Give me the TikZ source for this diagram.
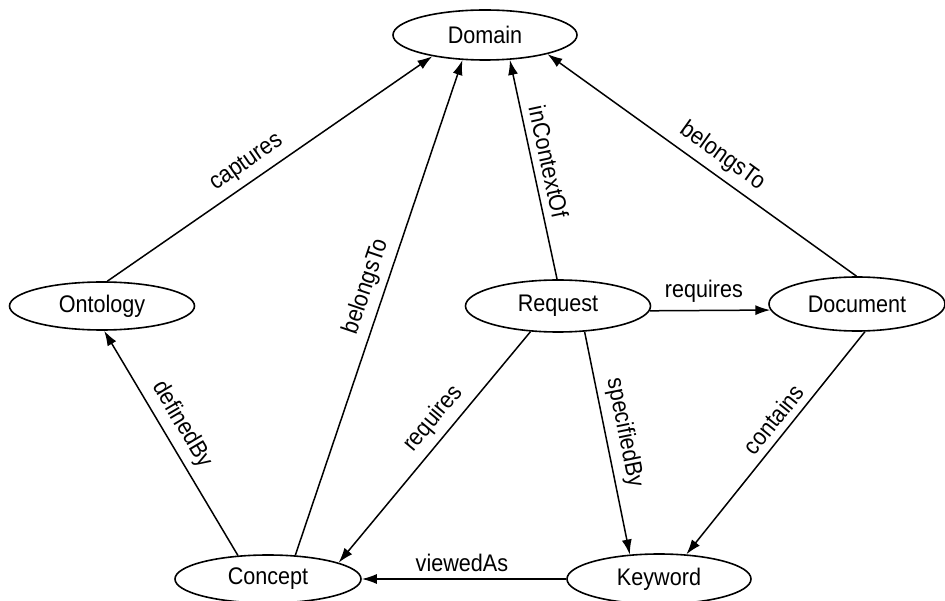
\documentclass[tikz,border=0pt]{standalone}
\usepackage{fontspec}
\setmainfont{Liberation Sans}[FakeStretch=0.9]
\usetikzlibrary{shapes.geometric,arrows.meta}

\begin{document}
\begin{tikzpicture}[x=1pt,y=-1pt,
  concept/.style={ellipse,draw,line width=1.6pt,inner sep=0pt,
    font=\fontsize{24}{28}\selectfont},
  rel/.style={line width=1.5pt,-{Latex[length=15pt,width=10pt]}},
  lbl/.style={sloped,above,inner sep=7pt,font=\fontsize{24}{28}\selectfont}]
\useasboundingbox (0,0) rectangle (945,601);

% classes
\node[concept,minimum width=184pt,minimum height=50pt] (dom) at (485,35) {Domain};
\node[concept,minimum width=185pt,minimum height=48pt] (ont) at (102,306) {Ontology};
\node[concept,minimum width=185pt,minimum height=52pt] (req) at (558,306) {Request};
\node[concept,minimum width=176pt,minimum height=54pt] (doc) at (857,304) {Document};
\node[concept,minimum width=186pt,minimum height=48pt] (con) at (268,579) {Concept};
\node[concept,minimum width=184pt,minimum height=50pt] (key) at (659,579) {Keyword};

% relations
\draw[rel] (ont.78)  -- node[lbl,pos=0.46] {captures} (dom.202);
\draw[rel] (con.41)  -- node[lbl,pos=0.53] {belongsTo} (dom.228);
\draw[rel] (req.92)  -- node[lbl,pos=0.52] {inContextOf} (dom.315);
\draw[rel] (doc.91)  -- node[lbl,pos=0.47] {belongsTo} (dom.343);
\draw[rel] (req.357) -- node[lbl,pos=0.45] {requires} (doc.184);
\draw[rel] (req.223) -- node[lbl,pos=0.43] {requires} (con.13);
\draw[rel] (req.316) -- node[lbl,pos=0.47] {specifiedBy} (key.140);
\draw[rel] (doc.286) -- node[lbl,pos=0.44] {contains} (key.42);
\draw[rel] (con.142) -- node[lbl,pos=0.54] {definedBy} (ont.275);
\draw[rel] (key.west) -- node[lbl,pos=0.51] {viewedAs} (con.east);
\end{tikzpicture}
\end{document}
